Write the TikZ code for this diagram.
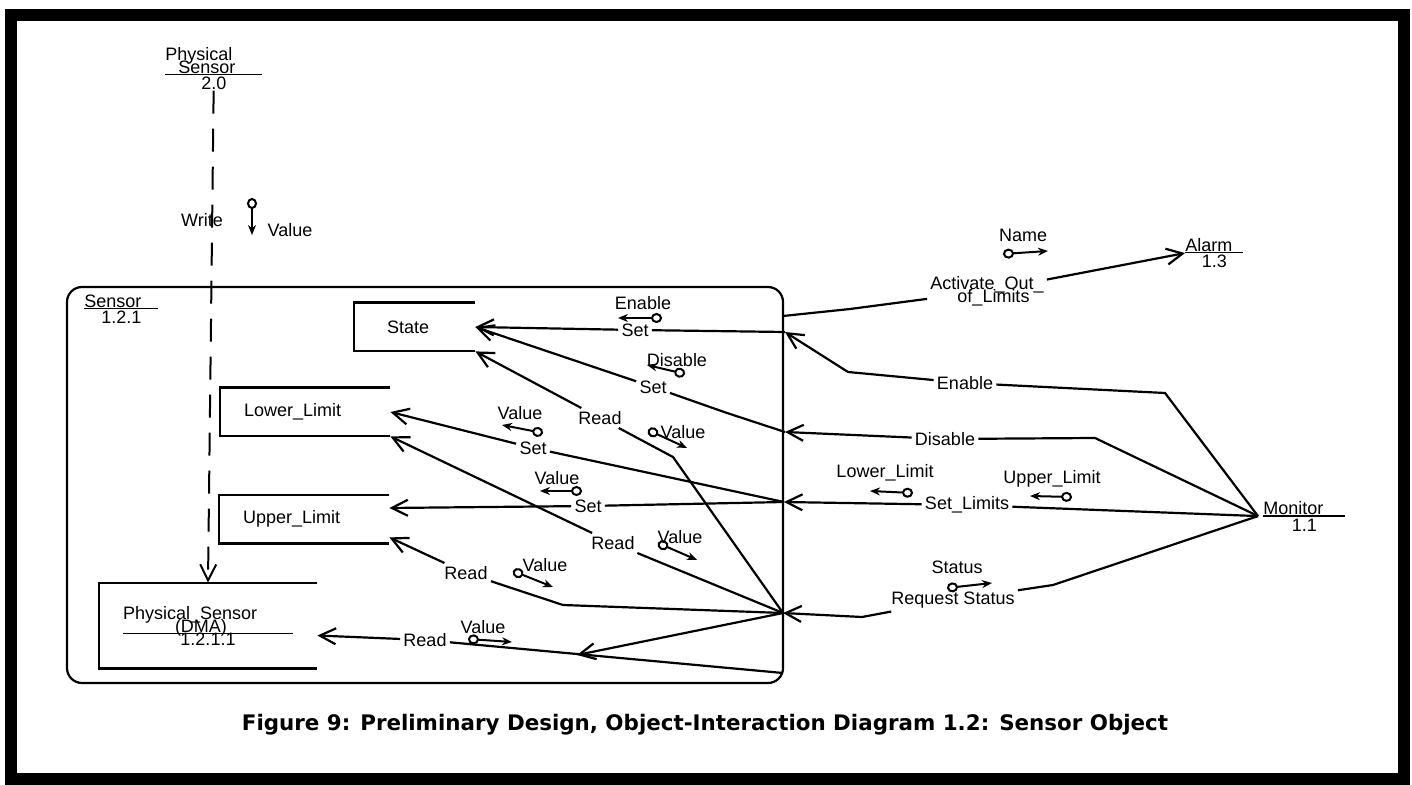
\documentclass[tikz,border=0pt]{standalone}
\usepackage{fontspec}
\setmainfont{Liberation Sans}
\newfontfamily\capfont{DejaVu Sans}
\usetikzlibrary{arrows.meta,positioning,calc}

% object name over a rule, id centred under it
\newcommand{\objtag}[4][1pt]{\vbox{\offinterlineskip
    \hbox to #4{\raisebox{0pt}[\height][0pt]{#2}\hss}\kern.5pt
    \hrule height .7pt\kern#1
    \hbox to #4{\hss #3\hss}}}

\begin{document}
\begin{tikzpicture}[
    x=0.5pt, y=-0.5pt,
    every node/.style={font=\fontsize{9}{10}\selectfont},
    obj/.style={anchor=base west, inner sep=0pt},
    box/.style={align=left, inner ysep=0pt, inner xsep=12pt, minimum height=24pt},
    container/.style={draw, line width=1.1pt, rounded corners=7.5pt, inner sep=0pt},
    lbl/.style={inner sep=1.5pt},
    arr/.style={-{Straight Barb[length=8pt,width=8pt]}, line width=1.1pt},
    dasharr/.style={arr, line width=1pt, dash pattern=on 11.5pt off 7.5pt},
    tok/.style={{Circle[open,length=5.5pt,width=5pt]}-{Stealth[length=5pt,width=4pt]}, line width=1pt}
  ]
  \useasboundingbox (0,0) rectangle (1412,785);
  \draw[line width=6pt] (11,15) rectangle (1404,779);

  % Sensor object
  \node[container, minimum width=358pt, minimum height=198pt] (sensor) at (425,485) {};
  \node[obj] (sensorTag) at (84,324) {\objtag{Sensor}{1.2.1}{37pt}};
  % attributes
  \node[box, text width=27.5pt, inner xsep=16.5pt] (state) at (414.5,327) {State};
  \node[box, text width=61pt] (lower) at (305,412) {Lower\_Limit};
  \node[box, text width=61pt] (upper) at (304,519) {Upper\_Limit};
  \node[box, text width=85pt, minimum height=42.5pt] (phys) at (208,625.5)
    {\noindent\objtag[-1pt]{\vbox{\baselineskip6.5pt\lineskiplimit-20pt
      \hbox{Physical\_Sensor}\hbox{\hskip26pt(DMA)}}}{1.2.1.1}{85pt}};
  \foreach \b in {state,lower,upper,phys}
    \draw[line width=1.1pt] (\b.north east) -- (\b.north west) -- (\b.south west) -- (\b.south east);

  % other objects
  \node[obj] (ps2) at (165,90) {\objtag{\vbox{\baselineskip6.5pt\lineskiplimit-20pt
      \hbox{Physical}\hbox{\hskip6.5pt Sensor}}}{2.0}{48.5pt}};
  \node[obj] (alarm) at (1185,268) {\objtag{Alarm}{1.3}{29pt}};
  \node[obj] (mon) at (1263,531) {\objtag{Monitor}{1.1}{41pt}};

  % message labels
  \node[lbl, align=left] (actLbl) at (987,291)
    {Activate\_Out\_\\[-3.4pt]\hspace*{13.5pt}of\_Limits};
  \node[lbl] (enLbl) at (965,383) {Enable};
  \node[lbl] (disLbl) at (945,439) {Disable};
  \node[lbl] (limLbl) at (967,505) {Set\_Limits};
  \node[lbl] (reqLbl) at (953,600) {Request Status};
  \node[lbl] (setEn) at (635,330) {Set};
  \node[lbl] (setDis) at (653,387) {Set};
  \node[lbl] (rdState) at (600,418) {Read};
  \node[lbl] (setLo) at (533,448) {Set};
  \node[lbl] (setUp) at (588,506) {Set};
  \node[lbl] (rdLo) at (613,543) {Read};
  \node[lbl] (rdUp) at (466,573) {Read};
  \node[lbl] (rdPhys) at (425,640) {Read};
  \node[lbl] (write) at (202,220) {Write};

  % ports on the Sensor border
  \coordinate (actPort) at (783,316);
  \coordinate (enPort) at (785,332);
  \coordinate (disPort) at (785,432);
  \coordinate (limPort) at (784,502);
  \coordinate (hub) at (783,613);
  \coordinate (outPort) at (783,673);
  \coordinate (rdJoin) at (577,655);
  \coordinate (monHub) at ([xshift=-2.5pt]mon.west);

  % messages from outside
  \draw[arr] (actPort) -- (850,309) -- (actLbl) -- (alarm.west);
  \draw[arr] (monHub) -- (1165,393) -- (enLbl) -- (848,372) -- (enPort);
  \draw[arr] (monHub) -- (1095,438) -- (disLbl) -- (disPort);
  \draw[arr] (monHub) -- (limLbl) -- (limPort);
  \draw[arr] (monHub) -- (1053,585) -- (reqLbl) -- (862,617) -- (hub);

  % messages inside
  \draw[arr] (enPort) -- (setEn) -- (state.east);
  \draw[arr] (disPort) -- (727,413) -- (setDis) -- (state.east);
  \draw[arr] (hub) -- (673,457) -- (rdState) -- (state.south east);
  \draw[arr] (limPort) -- (setLo) -- (lower.east);
  \draw[arr] (limPort) -- (setUp) -- ([yshift=5.5pt]upper.east);
  \draw[arr] (hub) -- (rdLo) -- (lower.south east);
  \draw[arr] (hub) -- (563,605) -- (rdUp) -- ([yshift=3pt]upper.south east);
  \draw[arr] (outPort) -- (rdPhys) -- ([yshift=-5pt]phys.east);
  \draw[arr] (hub) -- (rdJoin);
  \draw[dasharr] (ps2) -- (phys.north);

  % data tokens
  \foreach \nm/\ax/\ay/\bx/\by/\tx/\ty/\txt in {
      tName/1003/254/1048/251/1023/235/Name,
      tEn/662/318/618/318/643/303/Enable,
      tDis/685/374/647/365/677/360/Disable,
      tStV/648/430/687/448/683/432/Value,
      tLoSet/543/433/502/425/520/413/Value,
      tUpSet/582/491/540/491/557/478/Value,
      tLoRd/658/543/697/560/680/537/Value,
      tUpRd/513/571/553/587/545/565/Value,
      tPhRd/468/639/512/642/483/627/Value,
      tLoLim/913/493/870/491/885/473/Lower\_Limit,
      tUpLim/1072/497/1030/496/1052/479/Upper\_Limit,
      tStat/947/588/992/583/957/567/Status,
      tWrite/252/198/252/235/290/230/Value}
  {
    \coordinate (\nm a) at (\ax,\ay);
    \coordinate (\nm b) at (\bx,\by);
    \draw[tok] (\nm a) -- (\nm b);
    \node[lbl] (\nm) at (\tx,\ty) {\txt};
  }

  % caption
  \node[font=\capfont\bfseries\fontsize{10.7}{13}\selectfont] (caption) at (705,725)
    {Figure 9: Preliminary Design, Object-Interaction Diagram 1.2: Sensor Object};
\end{tikzpicture}
\end{document}
